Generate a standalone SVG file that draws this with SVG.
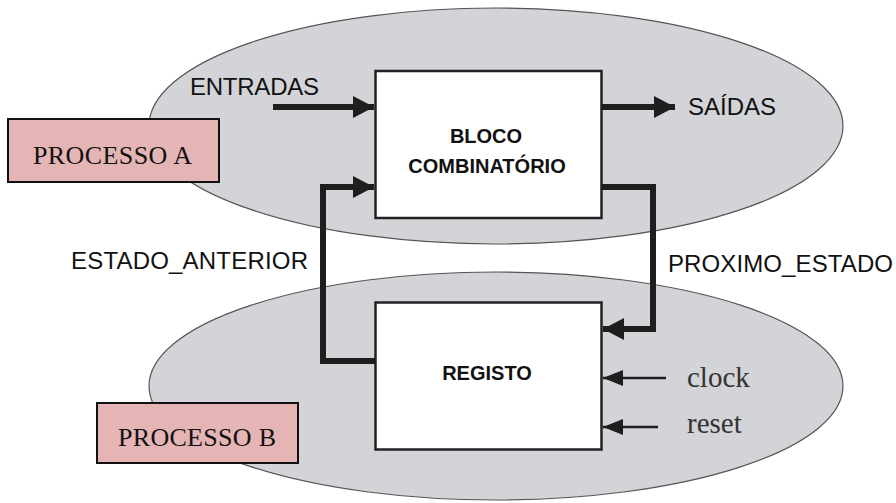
<svg xmlns="http://www.w3.org/2000/svg" width="896" height="503" viewBox="0 0 896 503">
<style>
.ell{fill:#d3d4d7;stroke:#555;stroke-width:1.2}
.box{fill:#fff;stroke:#222;stroke-width:2.5}
.proc{fill:#e5b5b5;stroke:#111;stroke-width:2}
.ptxt{font-family:"Liberation Serif",serif;font-size:26px;fill:#111}
.lbl{font-family:"Liberation Sans",Arial,sans-serif;font-size:24px;fill:#111}
.btxt{font-family:"Liberation Sans",Arial,sans-serif;font-size:20px;font-weight:bold;fill:#111;text-anchor:middle}
.sig{font-family:"Liberation Serif",serif;font-size:29px;fill:#333}
.thick{fill:none;stroke:#1e1e1e;stroke-width:6}
.thin{fill:none;stroke:#1e1e1e;stroke-width:2.5}
</style>
<defs>
<marker id="hB" markerUnits="userSpaceOnUse" markerWidth="22" markerHeight="24" refX="21" refY="11" orient="auto">
<path d="M0,0 L21,11 L0,22 Z" fill="#1e1e1e"/>
</marker>
<marker id="hS" markerUnits="userSpaceOnUse" markerWidth="22" markerHeight="18" refX="20" refY="8" orient="auto">
<path d="M0,0 L20,8 L0,16 Z" fill="#1e1e1e"/>
</marker>
</defs>
<rect width="896" height="503" fill="#fff"/>
<g id="processoA_area"><ellipse class="ell" cx="496" cy="126" rx="347" ry="118"/></g>
<g id="processoB_area"><ellipse class="ell" cx="496" cy="386" rx="347" ry="114"/></g>
<g id="connectors">
<path class="thick" d="M273,107 L374,107" marker-end="url(#hB)"/>
<path class="thick" d="M602,107 L675,107" marker-end="url(#hB)"/>
<path class="thick" d="M602,187 L653,187 L653,329 L603,329" marker-end="url(#hB)"/>
<path class="thick" d="M375,361 L323,361 L323,187 L374,187" marker-end="url(#hB)"/>
<path class="thin" d="M666,378 L603,378" marker-end="url(#hS)"/>
<path class="thin" d="M658,427 L603,427" marker-end="url(#hS)"/>
</g>
<g id="bloco">
<rect class="box" x="375.5" y="71" width="226" height="147"/>
<text class="btxt" x="486" y="143">BLOCO</text>
<text class="btxt" x="487" y="173">COMBINATÓRIO</text>
</g>
<g id="registo">
<rect class="box" x="375.5" y="302.5" width="226" height="147"/>
<text class="btxt" x="487" y="380">REGISTO</text>
</g>
<g id="processoA">
<rect class="proc" x="8" y="119" width="211" height="63"/>
<text class="ptxt" x="33" y="164" textLength="159">PROCESSO A</text>
</g>
<g id="processoB">
<rect class="proc" x="97" y="403" width="201" height="60"/>
<text class="ptxt" x="118" y="446" textLength="158">PROCESSO B</text>
</g>
<g id="labels">
<text class="lbl" x="190" y="95" textLength="129">ENTRADAS</text>
<text class="lbl" x="688" y="115" textLength="88">SAÍDAS</text>
<text class="lbl" x="71" y="269" textLength="237">ESTADO_ANTERIOR</text>
<text class="lbl" x="668" y="272" textLength="225">PROXIMO_ESTADO</text>
<text class="sig" x="687" y="387">clock</text>
<text class="sig" x="687" y="433">reset</text>
</g>
</svg>
